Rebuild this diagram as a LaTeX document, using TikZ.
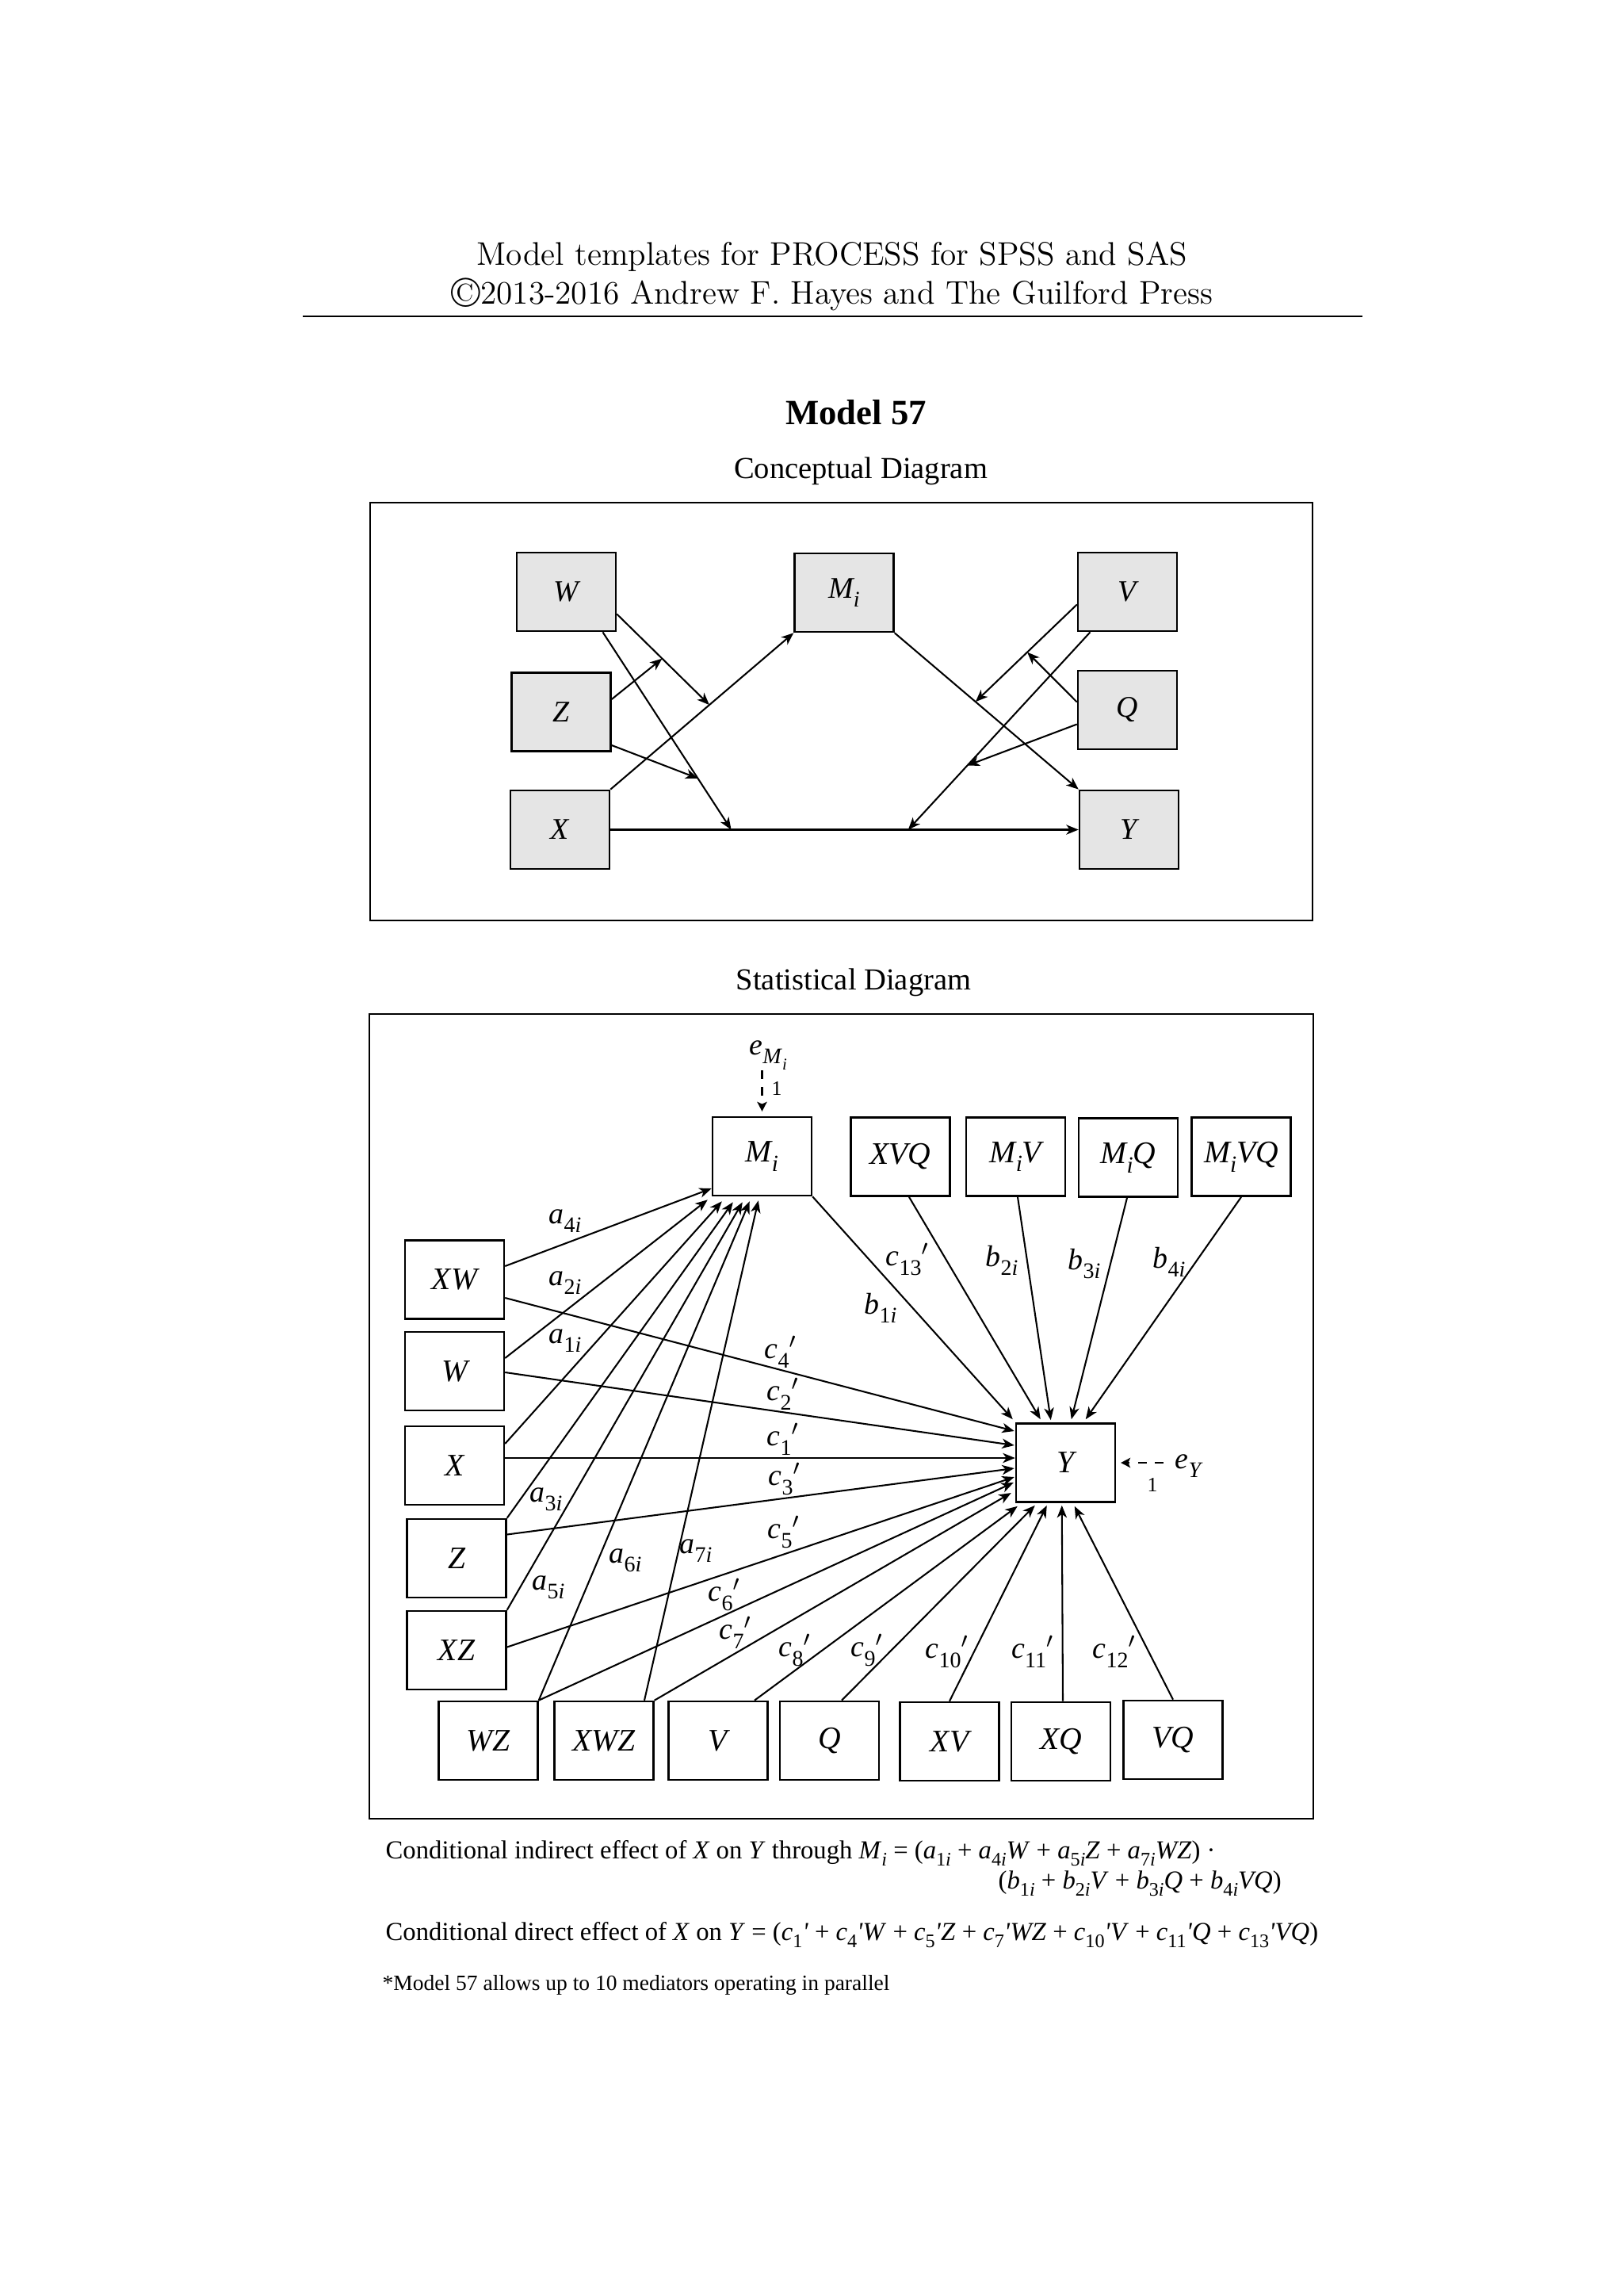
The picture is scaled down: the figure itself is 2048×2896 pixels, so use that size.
\documentclass[tikz,border=0pt]{standalone}
\usepackage{fontspec}
\usepackage{graphicx}
\newfontfamily\tms{Liberation Serif}
\usetikzlibrary{arrows.meta,calc}
\newcommand\sbx[1]{\raisebox{-0.3em}{\scalebox{0.74}{#1}}}
\newcommand\ai[2]{\textit{#1}\sbx{#2\textit{i}}}
\newcommand\cp[1]{\textit{c}\sbx{#1}\ensuremath{'}}
\newcommand\cq[1]{\textit{c}\sbx{#1}\textit{'}}
\begin{document}
\begin{tikzpicture}[x=0.29066pt,y=-0.29066pt,
  cbox/.style={draw,line width=0.75pt,fill=black!10,minimum width=36.3pt,minimum height=28.8pt,inner sep=0pt,font=\tms\fontsize{11}{13}\selectfont\itshape},
  sbox/.style={draw,line width=0.75pt,minimum width=36.3pt,minimum height=28.8pt,inner sep=0pt,font=\tms\fontsize{11.5}{13}\selectfont\itshape},
  arr/.style={-{Stealth[length=4.5pt,width=3.6pt,inset=1.3pt]},line width=0.6pt},
  darr/.style={-{Stealth[length=3.5pt,width=3.6pt,inset=0.8pt]},line width=0.6pt,dash pattern=on 3.2pt off 3pt,shorten >=1.7pt},
  lab/.style={inner sep=0pt,font=\tms\fontsize{11}{13}\selectfont},
  txt/.style={inner sep=0pt,anchor=base west,font=\tms\fontsize{9.5}{11}\selectfont}
]
\useasboundingbox (0,0) rectangle (2048,2896);
% header
\node[anchor=base,inner sep=0pt,font=\fontsize{12}{14.5}\selectfont] (h1) at (1050,334) {Model templates for PROCESS for SPSS and SAS};
\node[anchor=base,inner sep=0pt,font=\fontsize{12}{14.5}\selectfont] (h2) at (1050,383) {\raisebox{-0.12em}{\scalebox{1.3}{\textcopyright}}2013-2016 Andrew F. Hayes and The Guilford Press};
\coordinate (r1) at (382,399); \coordinate (r2) at (1719,399);
\draw[line width=0.6pt] (r1) -- (r2);
\node[anchor=base,inner sep=0pt,font=\tms\bfseries\fontsize{13}{15}\selectfont] (title) at (1080,535) {Model 57};
\node[anchor=base,inner sep=0pt,font=\tms\fontsize{11.2}{13}\selectfont] (ctitle) at (1086,603) {Conceptual Diagram};
\node[anchor=base,inner sep=0pt,font=\tms\fontsize{11.2}{13}\selectfont] (stitle) at (1077,1248) {Statistical Diagram};
% frames
\draw[line width=0.6pt] (467,634) rectangle (1656,1161);
\draw[line width=0.6pt] (466,1279) rectangle (1657,2294);
% conceptual nodes
\node[cbox] (cW) at (714.5,746.5) {W};
\node[cbox] (cM) at (1065,747.5) {M\sbx{i}};
\node[cbox] (cV) at (1422.5,746.5) {V};
\node[cbox] (cZ) at (708,898) {Z};
\node[cbox] (cQ) at (1422.5,895.5) {Q};
\node[cbox] (cX) at (706.5,1046.5) {X};
\node[cbox] (cY) at (1424.5,1046.5) {Y};
% conceptual connectors
\path (cX.north east) -- (cM.south west) coordinate[pos=0.54] (p1);
\path (cX.east) -- (cY.west) coordinate[pos=0.258] (p2) coordinate[pos=0.636] (p3);
\path (cM.south east) -- (cY.north west) coordinate[pos=0.44] (p4);
\coordinate (wa) at ($(cW.east)+(0,28)$);
\coordinate (wb) at ($(cW.south)+(46,0)$);
\path (wa) -- (p1) coordinate[pos=0.49] (p5);
\path (wb) -- (p2) coordinate[pos=0.74] (p6);
\coordinate (va) at ($(cV.west)+(0,16)$);
\coordinate (vb) at ($(cV.south)+(-47,0)$);
\path (va) -- (p4) coordinate[pos=0.49] (p7);
\path (vb) -- (p3) coordinate[pos=0.675] (p8);
\coordinate (za) at ($(cZ.east)+(0,-16)$);
\coordinate (zb) at ($(cZ.east)+(0,42)$);
\coordinate (qa) at ($(cQ.west)+(0,-10)$);
\coordinate (qb) at ($(cQ.west)+(0,18)$);
\draw[arr] (cX.north east) -- (cM.south west);
\draw[arr] (cM.south east) -- (cY.north west);
\draw[arr] (cX.east) -- (cY.west);
\draw[arr] (wa) -- (p1);
\draw[arr] (wb) -- (p2);
\draw[arr] (za) -- (p5);
\draw[arr] (zb) -- (p6);
\draw[arr] (va) -- (p4);
\draw[arr] (vb) -- (p3);
\draw[arr] (qa) -- (p7);
\draw[arr] (qb) -- (p8);
% statistical nodes
\node[sbox] (M) at (961.5,1458.5) {M\sbx{i}};
\node[sbox] (XVQ) at (1136,1459) {XVQ};
\node[sbox] (MiV) at (1281.5,1459) {M\sbx{i}V};
\node[sbox] (MiQ) at (1423.5,1460) {M\sbx{i}Q};
\node[sbox] (MiVQ) at (1566,1459) {M\sbx{i}VQ};
\node[sbox] (XW) at (573.5,1614) {XW};
\node[sbox] (W) at (573.5,1729.5) {W};
\node[sbox] (X) at (573.5,1848.5) {X};
\node[sbox] (Z) at (576,1965.5) {Z};
\node[sbox] (XZ) at (576,2081.5) {XZ};
\node[sbox] (WZ) at (616,2195.5) {WZ};
\node[sbox] (XWZ) at (762,2195.5) {XWZ};
\node[sbox] (V) at (906,2195.5) {V};
\node[sbox] (Q) at (1046.5,2195.5) {Q};
\node[sbox] (XV) at (1198,2196.5) {XV};
\node[sbox] (XQ) at (1338.5,2196.5) {XQ};
\node[sbox] (VQ) at (1480,2194.5) {VQ};
\node[sbox] (Y) at (1344.5,1845) {Y};
% error terms
\node[lab,anchor=base west] (eM) at (945,1330) {\textit{e}\sbx{\textit{M}\sbx{\textit{i}}}};
\coordinate (eMs) at (961.5,1350);
\draw[darr] (eMs) -- (M.north);
\node[inner sep=0pt,font=\tms\fontsize{7.5}{9}\selectfont] (oneM) at (980,1373) {1};
\node[lab,anchor=base west] (eY) at (1482,1852) {\textit{e}\sbx{\textit{Y}}};
\coordinate (eYs) at (1468,1845);
\draw[darr] (eYs) -- (Y.east);
\node[inner sep=0pt,font=\tms\fontsize{7.5}{9}\selectfont] (oneY) at (1454,1873) {1};
% a paths to M
\draw[arr] ($(XW.east)+(0,-17)$) -- ($(M.west)+(0,40.5)$);
\draw[arr] ($(W.east)+(0,-16.5)$) -- ($(M.south west)+(-5,4)$);
\draw[arr] ($(X.east)+(0,-27.5)$) -- ($(M.south west)+(13,6)$);
\draw[arr] (Z.north east) -- ($(M.south west)+(27,7)$);
\draw[arr] (XZ.north east) -- ($(M.south west)+(39,7)$);
\draw[arr] (WZ.north east) -- ($(M.south west)+(48,6)$);
\draw[arr] ($(XWZ.north)+(51,0)$) -- ($(M.south west)+(59,5)$);
% paths to Y from top
\draw[arr] (M.south east) -- ($(Y.north west)+(-3,-4)$);
\draw[arr] ($(XVQ.south)+(11,0)$) -- ($(Y.north west)+(32,-4)$);
\draw[arr] ($(MiV.south)+(2.5,0)$) -- ($(Y.north west)+(45,-3)$);
\draw[arr] ($(MiQ.south)+(-1.5,0)$) -- ($(Y.north west)+(71,-4)$);
\draw[arr] (MiVQ.south) -- ($(Y.north west)+(89,-4)$);
% paths to Y from left
\draw[arr] ($(XW.east)+(0,23)$) -- ($(Y.west)+(-1,-40)$);
\draw[arr] ($(W.east)+(0,1.5)$) -- ($(Y.west)+(-1,-22)$);
\draw[arr] ($(X.east)+(0,-9.5)$) -- ($(Y.west)+(0,-6)$);
\draw[arr] ($(Z.east)+(0,-30)$) -- ($(Y.west)+(-1,7)$);
\draw[arr] ($(XZ.east)+(0,-4)$) -- ($(Y.west)+(-1,18)$);
\draw[arr] (WZ.north east) -- ($(Y.west)+(-2,25)$);
\draw[arr] (XWZ.north east) -- ($(Y.west)+(-5,38)$);
% paths to Y from bottom
\draw[arr] ($(V.north)+(46,0)$) -- ($(Y.south west)+(3,4)$);
\draw[arr] ($(Q.north)+(15.5,0)$) -- ($(Y.south west)+(25,3)$);
\draw[arr] (XV.north) -- ($(Y.south west)+(40,3)$);
\draw[arr] ($(XQ.north)+(2.5,0)$) -- ($(Y.south west)+(59,3)$);
\draw[arr] (VQ.north) -- ($(Y.south west)+(75,4)$);
% labels
\node[lab] (la4) at (713,1540) {\ai{a}{4}};
\node[lab] (la2) at (713,1618) {\ai{a}{2}};
\node[lab] (la1) at (713,1691) {\ai{a}{1}};
\node[lab] (la3) at (689,1891) {\ai{a}{3}};
\node[lab] (la5) at (692,2002) {\ai{a}{5}};
\node[lab] (la6) at (789,1968) {\ai{a}{6}};
\node[lab] (la7) at (878,1956) {\ai{a}{7}};
\node[lab] (lc4) at (985,1705) {\cp{4}};
\node[lab] (lc2) at (988,1758) {\cp{2}};
\node[lab] (lc1) at (988,1815) {\cp{1}};
\node[lab] (lc3) at (990,1865) {\cp{3}};
\node[lab] (lc5) at (989,1932) {\cp{5}};
\node[lab] (lc6) at (914,2011) {\cp{6}};
\node[lab] (lc7) at (928,2059) {\cp{7}};
\node[lab] (lc8) at (1003,2081) {\cp{8}};
\node[lab] (lc9) at (1094,2081) {\cp{9}};
\node[lab] (lc10) at (1195,2083) {\cp{10}};
\node[lab] (lc11) at (1303,2083) {\cp{11}};
\node[lab] (lc12) at (1406,2083) {\cp{12}};
\node[lab] (lc13) at (1145,1588) {\cp{13}};
\node[lab] (lb1) at (1111,1650) {\ai{b}{1}};
\node[lab] (lb2) at (1264,1590) {\ai{b}{2}};
\node[lab] (lb3) at (1368,1594) {\ai{b}{3}};
\node[lab] (lb4) at (1475,1592) {\ai{b}{4}};
% formulas
\node[txt] (f1) at (486,2344) {Conditional indirect effect of \textit{X} on \textit{Y} through \textit{M}\sbx{\textit{i}} = (\ai{a}{1} + \ai{a}{4}\textit{W} + \ai{a}{5}\textit{Z} + \ai{a}{7}\textit{WZ}) \textperiodcentered};
\node[txt] (f2) at (1259,2382) {(\ai{b}{1} + \ai{b}{2}\textit{V} + \ai{b}{3}\textit{Q} + \ai{b}{4}\textit{VQ})};
\node[txt] (f3) at (486,2447) {Conditional direct effect of \textit{X} on \textit{Y} = (\cq{1} + \cq{4}\textit{W} + \cq{5}\textit{Z} + \cq{7}\textit{WZ} + \cq{10}\textit{V} + \cq{11}\textit{Q} + \cq{13}\textit{VQ})};
\node[txt,font=\tms\fontsize{8}{10}\selectfont] (f4) at (482,2510) {*Model 57 allows up to 10 mediators operating in parallel};
\end{tikzpicture}
\end{document}
